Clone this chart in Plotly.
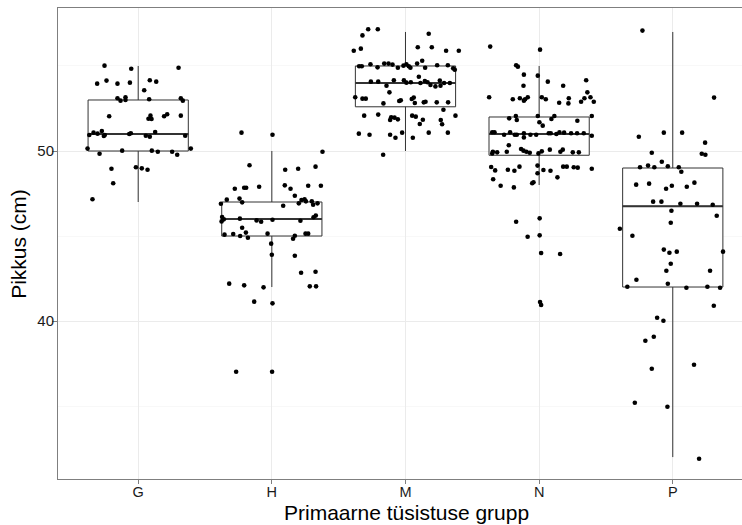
import plotly.graph_objects as go

categories = ["G", "H", "M", "N", "P"]

# box statistics
q1 = [50.0, 45.0, 52.6, 49.75, 42.0]
median = [51.0, 46.0, 54.0, 51.0, 46.75]
q3 = [53.0, 47.0, 55.0, 52.0, 49.0]
lower_whisker = [47.0, 42.0, 50.0, 48.0, 32.0]
upper_whisker = [55.0, 50.0, 57.0, 55.0, 57.0]

# jittered points: horizontal jitter (category units) and height (cm)
G_jit = [-0.252, -0.052, 0.302, -0.307, -0.237, -0.155, -0.062, 0.087, 0.135, 0.045,
         -0.155, -0.132, -0.095, -0.095, 0.082, 0.319, 0.334, -0.217, 0.092, 0.100,
         0.077, 0.194, 0.217, 0.319, -0.366, -0.334, -0.304, -0.272, -0.257, -0.250,
         -0.067, -0.055, 0.057, 0.087, 0.127, 0.352, -0.379, -0.289, -0.120, 0.102,
         0.147, 0.254, 0.292, 0.394, -0.200, -0.017, 0.027, 0.070, -0.187, -0.342]
G_val = [55.02, 54.84, 54.90, 53.96, 54.14, 53.96, 54.02, 54.16, 54.08, 53.57,
         53.10, 52.96, 53.16, 53.00, 53.04, 53.10, 52.96, 52.04, 52.08, 51.88,
         51.90, 52.04, 52.16, 52.08, 50.94, 51.08, 51.02, 51.18, 50.88, 50.94,
         51.00, 51.04, 50.90, 50.84, 51.12, 50.90, 50.14, 49.84, 50.02, 50.02,
         49.96, 49.96, 49.78, 50.14, 48.96, 49.04, 48.98, 48.90, 48.10, 47.16]

H_jit = [-0.227, 0.005, 0.379, -0.167, 0.100, 0.197, 0.327, -0.277, -0.207, -0.192,
         -0.095, 0.097, 0.140, 0.272, 0.367, 0.172, -0.381, -0.337, -0.242, -0.222,
         0.085, 0.202, 0.222, 0.245, 0.255, 0.299, 0.309, 0.342, -0.372, -0.376,
         -0.359, -0.239, -0.114, -0.080, 0.005, 0.214, 0.312, 0.329, -0.354, -0.289,
         -0.237, -0.222, -0.194, -0.179, -0.032, 0.159, 0.172, 0.252, 0.272, -0.005,
         0.000, 0.172, 0.219, 0.327, -0.319, -0.207, -0.062, 0.284, 0.331, -0.132,
         0.005, -0.267, 0.002]
H_val = [51.08, 50.96, 49.96, 49.16, 48.90, 48.96, 49.08, 47.78, 47.84, 47.84,
         47.90, 47.98, 47.78, 47.96, 47.96, 47.37, 46.90, 47.14, 47.20, 46.98,
         46.78, 46.92, 47.12, 47.16, 47.04, 47.04, 46.84, 46.92, 46.12, 45.86,
         45.98, 46.02, 45.92, 45.84, 45.96, 45.90, 46.10, 46.20, 45.08, 45.12,
         45.00, 45.49, 45.20, 44.90, 45.14, 44.84, 45.02, 45.14, 45.14, 44.55,
         43.90, 43.84, 42.84, 42.90, 42.20, 42.10, 41.98, 42.04, 42.04, 41.14,
         41.04, 37.02, 37.02]

M_jit = [-0.279, -0.207, -0.322, 0.174, -0.387, -0.334, 0.092, 0.197, 0.304, 0.399,
         -0.347, -0.327, -0.262, -0.209, -0.159, -0.127, -0.097, -0.057, -0.015, 0.007,
         0.025, 0.037, 0.087, 0.125, 0.147, 0.237, 0.317, 0.357, 0.369, -0.259,
         -0.204, -0.142, -0.087, -0.012, 0.007, 0.040, 0.100, 0.112, 0.145, 0.165,
         0.187, 0.224, 0.257, 0.262, 0.289, 0.332, -0.120, -0.376, -0.322, -0.297,
         -0.165, -0.047, -0.035, 0.047, 0.062, 0.070, 0.137, 0.150, 0.234, 0.319,
         -0.309, -0.204, -0.115, -0.107, -0.082, -0.057, 0.050, 0.077, 0.107, 0.130,
         0.284, 0.264, 0.274, 0.374, -0.349, -0.269, -0.115, -0.075, -0.025, 0.055,
         0.174, 0.317, -0.167]
M_val = [57.16, 57.16, 56.80, 56.90, 55.90, 56.02, 56.10, 56.10, 55.90, 55.90,
         54.98, 54.98, 55.10, 54.92, 55.14, 55.14, 55.08, 54.90, 55.02, 55.10,
         54.98, 54.90, 55.14, 55.31, 54.90, 55.04, 55.04, 54.86, 54.78, 54.08,
         54.08, 53.84, 54.16, 54.16, 54.02, 54.04, 54.37, 54.00, 54.12, 54.04,
         53.88, 53.80, 54.14, 53.84, 54.00, 54.00, 53.45, 53.16, 53.08, 53.08,
         52.80, 52.94, 52.98, 53.06, 53.14, 52.82, 52.86, 52.90, 52.86, 52.86,
         52.08, 52.14, 51.82, 51.98, 51.96, 51.86, 52.08, 52.02, 51.59, 51.84,
         52.43, 51.82, 51.57, 52.08, 51.02, 50.96, 50.96, 50.78, 51.08, 50.78,
         51.08, 51.08, 49.78]

N_jit = [-0.366, 0.007, -0.172, -0.159, -0.114, -0.010, 0.065, 0.180, 0.352, -0.117,
         -0.374, -0.197, -0.144, -0.114, -0.105, -0.085, 0.020, 0.050, 0.150, 0.222,
         0.219, 0.314, 0.339, 0.361, 0.384, 0.409, -0.224, -0.174, -0.167, -0.010,
         0.002, 0.027, 0.092, 0.114, 0.286, 0.394, -0.351, -0.334, -0.262, -0.217,
         -0.182, -0.167, -0.114, -0.114, -0.065, -0.022, 0.072, 0.087, 0.129, 0.152,
         0.187, 0.239, 0.284, 0.334, 0.394, -0.227, -0.346, -0.351, -0.314, -0.242,
         -0.135, -0.117, -0.095, -0.070, -0.005, 0.020, 0.080, 0.159, 0.177, 0.252,
         0.297, -0.359, -0.329, -0.234, -0.185, -0.147, -0.012, -0.012, 0.032, 0.085,
         0.180, 0.207, 0.259, 0.289, 0.394, 0.137, -0.344, -0.042, -0.052, -0.288,
         -0.189, -0.172, 0.004, -0.086, 0.004, 0.015, 0.157, 0.007, 0.015]
N_val = [56.14, 55.96, 55.04, 54.96, 54.49, 54.43, 54.08, 53.84, 54.16, 53.84,
         53.16, 53.04, 53.10, 52.96, 53.04, 53.16, 53.16, 53.04, 52.84, 53.10,
         52.80, 52.90, 53.10, 53.45, 53.16, 52.90, 51.92, 52.06, 51.82, 52.06,
         51.69, 51.49, 51.88, 52.06, 51.78, 52.06, 51.10, 51.10, 50.96, 51.10,
         50.96, 50.96, 51.04, 50.80, 50.96, 50.96, 51.04, 51.04, 51.00, 51.10,
         51.08, 51.04, 51.04, 51.04, 50.90, 50.34, 49.96, 49.86, 49.92, 49.96,
         50.12, 50.02, 49.96, 49.90, 49.86, 49.98, 50.08, 49.96, 50.08, 49.92,
         49.92, 49.06, 48.86, 48.90, 48.84, 49.08, 49.14, 48.69, 48.88, 48.84,
         49.08, 49.08, 49.04, 49.02, 48.96, 48.45, 48.34, 48.16, 48.10, 47.96,
         47.86, 45.84, 46.04, 44.96, 45.04, 44.00, 43.94, 41.12, 40.94]

P_jit = [-0.227, 0.309, -0.254, -0.067, 0.070, 0.242, -0.157, 0.217, 0.244, -0.245,
         -0.185, -0.138, -0.082, -0.037, 0.045, 0.064, -0.274, -0.177, -0.050, -0.007,
         0.105, 0.162, -0.147, -0.085, 0.057, 0.182, 0.299, -0.010, 0.329, -0.015,
         -0.396, -0.302, -0.067, -0.025, 0.030, 0.376, -0.015, -0.048, 0.279, -0.272,
         -0.037, -0.340, 0.102, 0.259, 0.354, 0.307, -0.117, -0.070, -0.142, -0.205,
         -0.157, 0.159, -0.284, -0.040, 0.197]
P_val = [57.08, 53.14, 50.84, 51.08, 51.08, 50.49, 49.90, 49.84, 49.78, 49.04,
         49.14, 49.04, 49.37, 49.10, 49.04, 48.78, 48.02, 48.08, 47.78, 47.96,
         47.90, 48.14, 47.02, 47.02, 46.90, 46.90, 46.84, 46.49, 46.19, 45.78,
         45.43, 45.02, 44.20, 44.02, 44.08, 44.08, 43.37, 42.96, 42.96, 42.43,
         42.19, 42.02, 41.96, 42.02, 41.96, 40.90, 40.19, 40.02, 39.08, 38.84,
         37.19, 37.43, 35.19, 34.96, 31.90]

jitters = [G_jit, H_jit, M_jit, N_jit, P_jit]
values = [G_val, H_val, M_val, N_val, P_val]

y_ticks = [40, 50]
y_minor = [35, 45, 55]
x_title = "Primaarne tüsistuse grupp"
y_title = "Pikkus (cm)"
box_width = 0.75
BOX_COL = "#333333"
BORDER = "#7f7f7f"

fig = go.Figure()

for i, cat in enumerate(categories):
    pos = i + 1
    fig.add_trace(go.Box(
        x=[pos], q1=[q1[i]], median=[median[i]], q3=[q3[i]],
        lowerfence=[lower_whisker[i]], upperfence=[upper_whisker[i]],
        width=box_width, boxpoints=False, whiskerwidth=0,
        fillcolor="white", line=dict(color=BOX_COL, width=1),
        hoverinfo="skip", showlegend=False, name=cat,
    ))

# thicker median lines (ggplot fatten)
for i, cat in enumerate(categories):
    pos = i + 1
    fig.add_trace(go.Scatter(
        x=[pos - box_width / 2, pos + box_width / 2], y=[median[i], median[i]],
        mode="lines", line=dict(color=BOX_COL, width=2.2),
        hoverinfo="skip", showlegend=False,
    ))

for i, cat in enumerate(categories):
    pos = i + 1
    fig.add_trace(go.Scatter(
        x=[pos + j for j in jitters[i]], y=values[i],
        mode="markers", marker=dict(color="black", size=4.6),
        showlegend=False, name=cat,
    ))

font_family = "Liberation Sans, Arial, Helvetica, sans-serif"

fig.update_layout(
    width=742, height=525,
    margin=dict(l=58, r=0, t=8, b=46),
    paper_bgcolor="white", plot_bgcolor="white",
    font=dict(family=font_family, color="black"),
    xaxis=dict(
        range=[0.4, 5.518],
        tickmode="array", tickvals=[1, 2, 3, 4, 5], ticktext=categories,
        showgrid=True, gridcolor="#ebebeb", gridwidth=1,
        zeroline=False,
        showline=True, linecolor=BORDER, linewidth=1, mirror=True,
        ticks="outside", ticklen=4, tickcolor=BORDER,
        ticklabelstandoff=-4,
        tickfont=dict(size=14.5, color="#1a1a1a"),
    ),
    yaxis=dict(
        range=[30.71, 58.41],
        tickmode="array", tickvals=y_ticks,
        showgrid=True, gridcolor="#ebebeb", gridwidth=1,
        minor=dict(tickvals=y_minor, showgrid=True, gridcolor="#f8f8f8", ticks=""),
        zeroline=False,
        showline=True, linecolor=BORDER, linewidth=1, mirror=False,
        ticks="outside", ticklen=5, tickcolor=BORDER,
        ticklabelstandoff=-5,
        tickfont=dict(size=15, color="#1a1a1a"),
    ),
    annotations=[
        dict(text=x_title, xref="paper", yref="paper", x=0.509, y=-0.072,
             xanchor="center", yanchor="middle", showarrow=False,
             font=dict(size=21, color="black")),
        dict(text=y_title, xref="paper", yref="paper", x=-0.058, y=0.5,
             xanchor="center", yanchor="middle", showarrow=False, textangle=-90,
             font=dict(size=21, color="black")),
    ],
)

fig.write_html("out.html", config={"displayModeBar": False})

# remove the browser's default page margin so the figure fills the window
with open("out.html", "r", encoding="utf-8") as f:
    html = f.read()
html = html.replace("<head>", "<head><style>html,body{margin:0;padding:0;overflow:hidden;}</style>", 1)
with open("out.html", "w", encoding="utf-8") as f:
    f.write(html)
